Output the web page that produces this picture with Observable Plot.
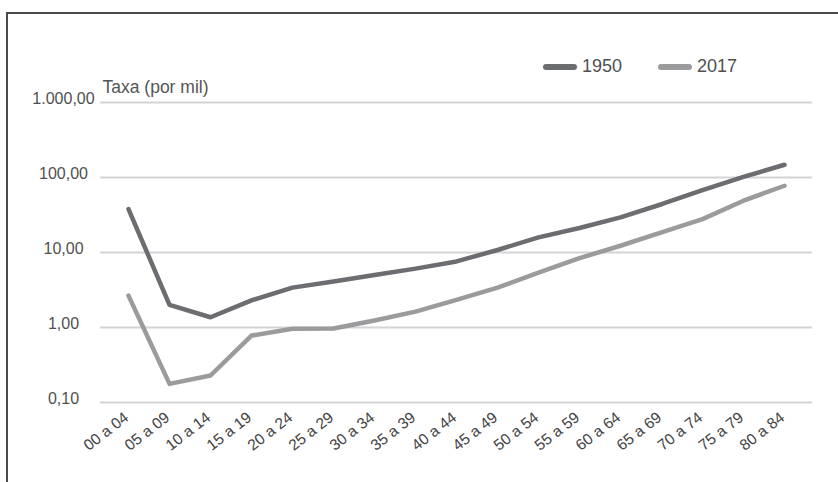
<!DOCTYPE html>
<html>
<head>
<meta charset="utf-8">
<script src="https://cdn.jsdelivr.net/npm/d3@7"></script>
<script src="https://cdn.jsdelivr.net/npm/@observablehq/plot@0.6"></script>
<style>
  body { margin: 0; background: #fff; }
  #wrap { position: relative; width: 838px; height: 482px; overflow: hidden; font-family: "Liberation Sans", Arial, sans-serif; background: #fff; }
  #frame { position: absolute; left: 6px; top: 12px; width: 900px; height: 600px; border-left: 2px solid #4a4a4a; border-top: 2px solid #4a4a4a; pointer-events: none; }
  #chart { position: absolute; left: 0; top: 0; }
  #legend { position: absolute; top: 56px; left: 543px; display: flex; align-items: center; font-size: 18px; color: #505050; }
  .item { display: flex; align-items: center; margin-right: 36px; }
  .sw { width: 34px; height: 6px; border-radius: 3px; margin-right: 5px; }
</style>
</head>
<body>
<div id="wrap">
  <div id="frame"></div>
  <div id="chart"></div>
  <div id="legend"></div>
</div>
<script>
// Age groups (x categories)
const ages = ["00 a 04","05 a 09","10 a 14","15 a 19","20 a 24","25 a 29","30 a 34","35 a 39","40 a 44","45 a 49","50 a 54","55 a 59","60 a 64","65 a 69","70 a 74","75 a 79","80 a 84"];
// Mortality rate per thousand
const rate1950 = [38, 2.0, 1.37, 2.3, 3.4, 4.1, 5.0, 6.1, 7.6, 10.8, 15.9, 21.2, 29.4, 44, 68, 102, 148];
const rate2017 = [2.66, 0.177, 0.229, 0.78, 0.96, 0.97, 1.24, 1.63, 2.34, 3.4, 5.4, 8.4, 12.3, 18.5, 27.9, 49, 77.6];
// Series
const seriesNames = ["1950", "2017"];
const seriesColors = ["#6c6d71", "#9b9b9d"];
// Y ticks
const yTicks = [0.1, 1, 10, 100, 1000];
const yTickLabels = ["0,10", "1,00", "10,00", "100,00", "1.000,00"];
const yTitle = "Taxa (por mil)";

const rows = [];
ages.forEach((a, i) => {
  rows.push({age: a, rate: rate1950[i], series: seriesNames[0]});
  rows.push({age: a, rate: rate2017[i], series: seriesNames[1]});
});
const tickRows = yTicks.map((v, i) => ({v, label: yTickLabels[i]}));

const chart = Plot.plot({
  width: 838,
  height: 482,
  marginLeft: 100,
  marginRight: 26,
  marginTop: 102,
  marginBottom: 80,
  style: {fontFamily: '"Liberation Sans", Arial, sans-serif', color: "#505050", background: "transparent"},
  x: {type: "point", domain: ages, padding: 0.5, label: null},
  y: {type: "log", domain: [0.1, 1000], label: null, axis: null},
  color: {domain: seriesNames, range: seriesColors},
  marks: [
    Plot.ruleY(yTicks, {stroke: "#d4d4d6", strokeWidth: 2}),
    Plot.text(tickRows, {y: "v", text: "label", frameAnchor: "left", dx: -37, dy: -4, textAnchor: "middle", fontSize: 16, fill: "#505050"}),
    Plot.text([yTitle], {frameAnchor: "top-left", text: d => d, dx: 2, dy: -22, textAnchor: "start", fontSize: 17.5, fill: "#555"}),
    Plot.axisX({tickSize: 0, tickPadding: 13, dx: -2, tickRotate: -38, fontSize: 15.5, fill: "#444", label: null}),
    Plot.line(rows, {x: "age", y: "rate", z: "series", stroke: "series", strokeWidth: 4.5, strokeLinejoin: "round", strokeLinecap: "round"})
  ]
});
document.getElementById("chart").appendChild(chart);

const legend = document.getElementById("legend");
seriesNames.forEach((name, i) => {
  const item = document.createElement("div");
  item.className = "item";
  const sw = document.createElement("span");
  sw.className = "sw";
  sw.style.background = seriesColors[i];
  const t = document.createElement("span");
  t.textContent = name;
  item.appendChild(sw);
  item.appendChild(t);
  legend.appendChild(item);
});
</script>
</body>
</html>
